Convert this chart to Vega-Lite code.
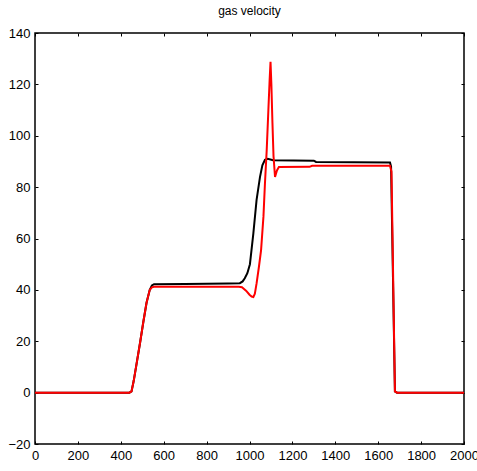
{
  "$schema": "https://vega.github.io/schema/vega-lite/v6.json",
  "width": 429,
  "height": 411,
  "autosize": "none",
  "padding": {"left": 35, "top": 33, "right": 13, "bottom": 27},
  "background": "white",
  "title": {"text": "gas velocity", "font": "Liberation Sans", "fontSize": 12, "fontWeight": "normal", "color": "#000", "offset": 9},
  "config": {
    "view": {"stroke": "#000", "strokeWidth": 1.5},
    "axis": {"labelFont": "Liberation Sans", "labelFontSize": 13, "labelColor": "#000", "domain": false, "tickColor": "#000", "tickSize": 3, "offset": -3, "tickWidth": 1, "grid": false, "title": null, "labelOverlap": false, "labelFlush": false, "labelBound": false, "format": "d"}
  },
  "data": {"values": [
    {"t": 0, "v": 0, "s": "black"}, {"t": 440, "v": 0, "s": "black"}, {"t": 450, "v": 0.5, "s": "black"}, {"t": 460, "v": 4.5, "s": "black"}, {"t": 475, "v": 12, "s": "black"}, {"t": 490, "v": 19.5, "s": "black"}, {"t": 505, "v": 27.5, "s": "black"}, {"t": 520, "v": 35, "s": "black"}, {"t": 535, "v": 40, "s": "black"}, {"t": 545, "v": 41.7, "s": "black"}, {"t": 555, "v": 42.2, "s": "black"}, {"t": 700, "v": 42.3, "s": "black"}, {"t": 900, "v": 42.5, "s": "black"}, {"t": 955, "v": 42.6, "s": "black"}, {"t": 968, "v": 43.3, "s": "black"}, {"t": 978, "v": 44.5, "s": "black"}, {"t": 990, "v": 46.5, "s": "black"}, {"t": 1002, "v": 50, "s": "black"}, {"t": 1018, "v": 62, "s": "black"}, {"t": 1033, "v": 75, "s": "black"}, {"t": 1049, "v": 84, "s": "black"}, {"t": 1060, "v": 88.5, "s": "black"}, {"t": 1072, "v": 90.6, "s": "black"}, {"t": 1085, "v": 91, "s": "black"}, {"t": 1110, "v": 90.5, "s": "black"}, {"t": 1300, "v": 90.3, "s": "black"}, {"t": 1310, "v": 89.8, "s": "black"}, {"t": 1655, "v": 89.6, "s": "black"}, {"t": 1660, "v": 88, "s": "black"}, {"t": 1678, "v": 0.5, "s": "black"}, {"t": 1688, "v": 0, "s": "black"}, {"t": 2000, "v": 0, "s": "black"},
    {"t": 0, "v": 0, "s": "red"}, {"t": 440, "v": 0, "s": "red"}, {"t": 450, "v": 0.5, "s": "red"}, {"t": 460, "v": 4.5, "s": "red"}, {"t": 475, "v": 12, "s": "red"}, {"t": 490, "v": 19.5, "s": "red"}, {"t": 505, "v": 27.5, "s": "red"}, {"t": 520, "v": 35, "s": "red"}, {"t": 535, "v": 40, "s": "red"}, {"t": 545, "v": 41, "s": "red"}, {"t": 555, "v": 41.2, "s": "red"}, {"t": 950, "v": 41.2, "s": "red"}, {"t": 965, "v": 41, "s": "red"}, {"t": 985, "v": 39.6, "s": "red"}, {"t": 1000, "v": 38.1, "s": "red"}, {"t": 1010, "v": 37.4, "s": "red"}, {"t": 1018, "v": 37.2, "s": "red"}, {"t": 1025, "v": 38.5, "s": "red"}, {"t": 1033, "v": 42.5, "s": "red"}, {"t": 1044, "v": 49, "s": "red"}, {"t": 1054, "v": 55.5, "s": "red"}, {"t": 1065, "v": 68.5, "s": "red"}, {"t": 1072, "v": 81.4, "s": "red"}, {"t": 1080, "v": 94, "s": "red"}, {"t": 1088, "v": 110, "s": "red"}, {"t": 1094, "v": 122, "s": "red"}, {"t": 1098, "v": 128.8, "s": "red"}, {"t": 1102, "v": 120, "s": "red"}, {"t": 1107, "v": 105, "s": "red"}, {"t": 1112, "v": 92, "s": "red"}, {"t": 1119, "v": 84, "s": "red"}, {"t": 1128, "v": 86.5, "s": "red"}, {"t": 1137, "v": 87.8, "s": "red"}, {"t": 1280, "v": 87.9, "s": "red"}, {"t": 1292, "v": 88.3, "s": "red"}, {"t": 1655, "v": 88.3, "s": "red"}, {"t": 1662, "v": 86, "s": "red"}, {"t": 1678, "v": 0.5, "s": "red"}, {"t": 1688, "v": 0, "s": "red"}, {"t": 2000, "v": 0, "s": "red"}
  ]},
  "layer": [
    {
      "transform": [{"filter": "datum.s === 'black'"}],
      "mark": {"type": "line", "color": "#000000", "strokeWidth": 2, "clip": true},
      "encoding": {
        "x": {"field": "t", "type": "quantitative", "scale": {"domain": [0, 2000], "nice": false, "zero": false}, "axis": {"orient": "bottom", "labelPadding": 5, "values": [0,200,400,600,800,1000,1200,1400,1600,1800,2000]}},
        "y": {"field": "v", "type": "quantitative", "scale": {"domain": [-20, 140], "nice": false, "zero": false}, "axis": {"orient": "left", "labelPadding": 5, "values": [-20,0,20,40,60,80,100,120,140]}}
      }
    },
    {
      "transform": [{"filter": "datum.s === 'red'"}],
      "mark": {"type": "line", "color": "#ff0000", "strokeWidth": 2, "clip": true},
      "encoding": {
        "x": {"field": "t", "type": "quantitative", "axis": {"orient": "top", "labels": false, "values": [0,200,400,600,800,1000,1200,1400,1600,1800,2000]}},
        "y": {"field": "v", "type": "quantitative", "axis": {"orient": "right", "labels": false, "values": [-20,0,20,40,60,80,100,120,140]}}
      }
    }
  ],
  "resolve": {"axis": {"x": "independent", "y": "independent"}}
}
